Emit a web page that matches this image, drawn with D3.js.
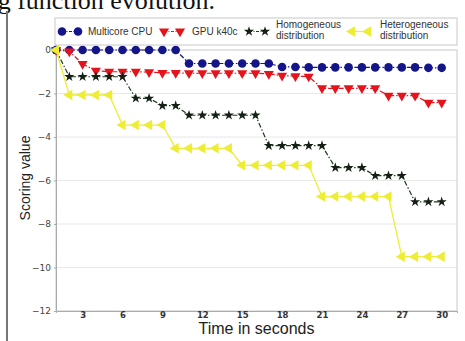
<!DOCTYPE html>
<html>
<head>
<meta charset="utf-8">
<script src="https://cdn.jsdelivr.net/npm/d3@7"></script>
<style>
  body { margin: 0; background: #fff; }
  svg { display: block; }
</style>
</head>
<body>
<svg id="chart" width="465" height="341"></svg>
<script>
// time steps (seconds)
const times = d3.range(1, 31);

// series values
const multicoreCpu = [0, 0, 0, 0, 0, 0, 0, 0, 0, 0,
  -0.62, -0.62, -0.62, -0.62, -0.62, -0.62, -0.62, -0.78, -0.78, -0.8,
  -0.8, -0.8, -0.8, -0.8, -0.8, -0.8, -0.8, -0.8, -0.82, -0.82];
const gpuK40c = [0, -0.06, -0.64, -0.95, -1.0, -1.0, -1.0, -1.02, -1.05, -1.05,
  -1.07, -1.07, -1.07, -1.07, -1.07, -1.07, -1.1, -1.18, -1.2, -1.22,
  -1.76, -1.76, -1.76, -1.76, -1.76, -2.1, -2.1, -2.1, -2.42, -2.42];
const homogeneous = [0, -1.23, -1.23, -1.23, -1.23, -1.23, -2.22, -2.22, -2.56, -2.56,
  -3.0, -3.0, -3.0, -3.0, -3.0, -3.0, -4.4, -4.4, -4.4, -4.4,
  -4.4, -5.41, -5.41, -5.41, -5.78, -5.78, -5.78, -6.98, -6.98, -6.98];
const heterogeneous = [0, -2.07, -2.07, -2.07, -2.07, -3.45, -3.45, -3.45, -3.45, -4.52,
  -4.52, -4.52, -4.52, -4.52, -5.3, -5.3, -5.3, -5.3, -5.3, -5.3,
  -6.74, -6.74, -6.74, -6.74, -6.74, -6.74, -9.5, -9.5, -9.5, -9.5];

const xTicks = [3, 6, 9, 12, 15, 18, 21, 24, 27, 30];
const yTicks = [0, -2, -4, -6, -8, -10, -12];

const seriesNames = ['Multicore CPU', 'GPU k40c', 'Homogeneous\ndistribution', 'Heterogeneous\ndistribution'];
const seriesValues = [multicoreCpu, gpuK40c, homogeneous, heterogeneous];

// look of each series
const styles = [
  { line: '#15158a', fill: '#15158a', dash: '5,2,1.5,2', width: 1.2, symbol: d3.symbolCircle, size: 58, rot: 0 },
  { line: '#e5141c', fill: '#e5141c', dash: '5,2,1.5,2', width: 1.2, symbol: d3.symbolTriangle, size: 44, rot: 180 },
  { line: '#1e3a1e', fill: '#152015', dash: '5,2,1.5,2', width: 1.2, symbol: d3.symbolStar, size: 32, rot: 0 },
  { line: '#eded36', fill: '#eded36', dash: null, width: 1.3, symbol: d3.symbolTriangle, size: 48, rot: -90 }
];

const svg = d3.select('#chart');

// scrap of the document around the figure
svg.append('text')
  .attr('x', 215).attr('y', 9)
  .attr('text-anchor', 'end')
  .style('font-family', '"Liberation Serif", "DejaVu Serif", serif')
  .style('font-size', '26px')
  .attr('fill', '#111')
  .text('Scoring function evolution.');

svg.append('line')
  .attr('x1', 7).attr('x2', 7).attr('y1', 11).attr('y2', 341)
  .attr('stroke', '#777').attr('stroke-width', 2);

const margin = { top: 50, right: 8, bottom: 30, left: 56 };
const width = 465 - margin.left - margin.right;
const height = 341 - margin.top - margin.bottom;

const chart = svg.append('g')
  .attr('transform', `translate(${margin.left},${margin.top})`);

const xScale = d3.scaleLinear().domain([1, 31.15]).range([0, width]);
const yScale = d3.scaleLinear().domain([-12, 0]).range([height, 0]);

// grid
chart.selectAll('.grid')
  .data(yTicks.slice(1, -1))
  .enter().append('line')
  .attr('x1', 0).attr('x2', width)
  .attr('y1', d => yScale(d)).attr('y2', d => yScale(d))
  .attr('stroke', '#e8e8e8').attr('stroke-width', 1);

// frame
chart.append('rect')
  .attr('x', 0).attr('y', 0).attr('width', width).attr('height', height)
  .attr('fill', 'none').attr('stroke', '#c8c8c8').attr('stroke-width', 1);

const fmt = d => (d < 0 ? '\u2212' + Math.abs(d) : String(d));

const xAxis = d3.axisBottom(xScale).tickValues(xTicks).tickSize(2).tickPadding(0);
const yAxis = d3.axisLeft(yScale).tickValues(yTicks).tickFormat(fmt).tickSize(2).tickPadding(3);

const gx = chart.append('g')
  .attr('transform', `translate(0,${height})`)
  .call(xAxis);
const gy = chart.append('g').call(yAxis);

[gx, gy].forEach(g => {
  g.select('.domain').attr('stroke', '#aaa');
  g.selectAll('.tick line').attr('stroke', '#aaa');
  g.selectAll('.tick text')
    .attr('fill', '#444')
    .style('font-family', '"DejaVu Sans", sans-serif')
    .style('font-size', '9px');
});
gx.selectAll('.tick text')
  .attr('y', 1)
  .style('font-size', '8.5px')
  .style('font-weight', 'bold').attr('fill', '#333');

// series
const line = d3.line()
  .x((d, i) => xScale(times[i]))
  .y(d => yScale(d));

seriesValues.forEach((vals, k) => {
  const st = styles[k];
  chart.append('path')
    .datum(vals)
    .attr('d', line)
    .attr('fill', 'none')
    .attr('stroke', st.line)
    .attr('stroke-width', st.width)
    .attr('stroke-dasharray', st.dash);
});

seriesValues.forEach((vals, k) => {
  const st = styles[k];
  const sym = d3.symbol().type(st.symbol).size(st.size);
  chart.selectAll('.m' + k)
    .data(vals)
    .enter().append('path')
    .attr('d', sym)
    .attr('transform', (d, i) => `translate(${xScale(times[i])},${yScale(d)}) rotate(${st.rot})`)
    .attr('fill', st.fill);
});

// axis titles
svg.append('text')
  .attr('transform', 'translate(30,178) rotate(-90)')
  .attr('text-anchor', 'middle')
  .style('font-family', '"Liberation Sans", Arial, sans-serif')
  .style('font-size', '14px')
  .attr('fill', '#222')
  .text('Scoring value');

svg.append('text')
  .attr('x', margin.left + width / 2).attr('y', 334)
  .attr('text-anchor', 'middle')
  .style('font-family', '"Liberation Sans", Arial, sans-serif')
  .style('font-size', '16px')
  .attr('fill', '#222')
  .text('Time in seconds');

// legend
const legend = svg.append('g');
legend.append('rect')
  .attr('x', 55).attr('y', 18).attr('width', 402).attr('height', 27)
  .attr('fill', '#fff').attr('stroke', '#c8c8c8');

const legendX = [62, 164, 249, 352];
const textX = [88, 192, 276, 380];

seriesNames.forEach((name, k) => {
  const st = styles[k];
  const g = legend.append('g');
  g.append('line')
    .attr('x1', legendX[k]).attr('x2', legendX[k] + 16)
    .attr('y1', 31.5).attr('y2', 31.5)
    .attr('stroke', st.line).attr('stroke-width', st.width)
    .attr('stroke-dasharray', st.dash ? '3,1.5,1,1.5' : null);
  const sym = d3.symbol().type(st.symbol).size(st.size);
  [legendX[k], legendX[k] + 16].forEach(x => {
    g.append('path')
      .attr('d', sym)
      .attr('transform', `translate(${x},31.5) rotate(${st.rot})`)
      .attr('fill', st.fill);
  });
  const lines = name.split('\n');
  const t = g.append('text')
    .attr('x', textX[k])
    .attr('y', lines.length > 1 ? 28 : 35)
    .style('font-family', '"Liberation Sans", Arial, sans-serif')
    .style('font-size', '10px')
    .attr('fill', '#333');
  lines.forEach((s, j) => {
    t.append('tspan').attr('x', textX[k]).attr('dy', j === 0 ? 0 : 11).text(s);
  });
});
</script>
</body>
</html>
